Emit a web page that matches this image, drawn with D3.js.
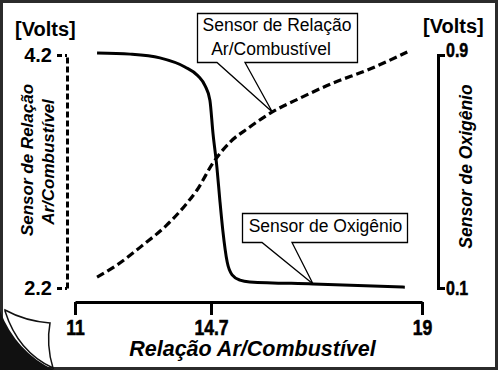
<!DOCTYPE html>
<html>
<head>
<meta charset="utf-8">
<script src="https://cdn.jsdelivr.net/npm/d3@7"></script>
<style>
  body { margin: 0; background: #fff; }
  .tick line { stroke: #000; }
</style>
</head>
<body>
<script>
// relação ar/combustível (eixo x) e tensões
var xTicks = [11, 14.7, 19];
var afrTicks = [2.2, 4.2];
var o2Ticks = [0.1, 0.9];

// Sensor de Oxigênio (linha cheia, eixo direito)
var o2Afr   = [11.60, 12.50, 13.31, 13.99, 14.35, 14.54, 14.67, 14.74, 14.82, 14.88, 14.94, 15.03, 15.13, 15.29, 15.49, 16.78, 18.65];
var o2Volts = [0.907, 0.903, 0.890, 0.859, 0.828, 0.794, 0.745, 0.632, 0.515, 0.402, 0.299, 0.189, 0.145, 0.127, 0.121, 0.114, 0.103];

// Sensor de Relação Ar/Combustível (tracejada, eixo esquerdo)
var afrAfr   = [11.60, 12.14, 12.85, 13.50, 14.05, 14.32, 14.74, 15.09, 15.46, 15.95, 16.52, 17.19, 17.89, 18.70];
var afrVolts = [2.294, 2.397, 2.569, 2.741, 2.930, 3.041, 3.273, 3.453, 3.573, 3.711, 3.831, 3.960, 4.071, 4.226];

var width = 500,
    height = 373;

var sans = "'Liberation Sans', Arial, sans-serif";
var squeeze = 0.8; // imita a fonte estreita dos números

var svg = d3.select("body").append("svg")
    .attr("width", width)
    .attr("height", height);

// escalas (o eixo x do desenho original não é linear)
var x = d3.scaleLinear().domain(xTicks).range([75, 211, 422]);
var yL = d3.scaleLinear().domain(afrTicks).range([288, 55]);
var yR = d3.scaleLinear().domain(o2Ticks).range([288, 55]);

// moldura
svg.append("rect")
    .attr("x", 1.5).attr("y", 1.5)
    .attr("width", 495).attr("height", 367)
    .attr("fill", "#fff")
    .attr("stroke", "#2b2b2b")
    .attr("stroke-width", 3);

// canto dobrado
svg.append("path")
    .attr("d", "M0,311 Q16,352 54,370 L0,370 Z")
    .attr("fill", "#111");
svg.append("path")
    .attr("d", "M5,310 Q25,321 50,323 Q46,345 53,368 Q18,352 5,311 Z")
    .attr("fill", "#fff")
    .attr("stroke", "#111")
    .attr("stroke-width", 1.5);

// eixo x
var gx = svg.append("g")
    .attr("transform", "translate(0,302)")
    .call(d3.axisBottom(x).tickValues(xTicks).tickSizeInner(13).tickSizeOuter(0).tickPadding(4)
      .tickFormat(function(d){ return d; }));
gx.selectAll("path, line").attr("stroke", "#000").attr("stroke-width", 3);
gx.selectAll("text")
    .attr("fill", "#000")
    .attr("stroke", "#000")
    .attr("stroke-width", 0.6)
    .attr("transform", "scale(" + squeeze + ",1)")
    .style("font-family", sans)
    .style("font-weight", "bold")
    .style("font-size", "22px");

// eixo esquerdo (tracejado)
var gl = svg.append("g")
    .attr("transform", "translate(67,0)")
    .call(d3.axisLeft(yL).tickValues(afrTicks).tickSizeInner(10).tickSizeOuter(0).tickPadding(5)
      .tickFormat(d3.format(".1f")));
gl.select(".domain")
    .attr("stroke", "#000").attr("stroke-width", 3)
    .attr("stroke-dasharray", "6,3");
gl.selectAll(".tick line")
    .attr("stroke-width", 3)
    .attr("stroke-dasharray", "2,3,5");
gl.selectAll("text")
    .attr("fill", "#000")
    .style("font-family", sans)
    .style("font-weight", "bold")
    .style("font-size", "20px");

// eixo direito
var gr = svg.append("g")
    .attr("transform", "translate(438,0)")
    .call(d3.axisRight(yR).tickValues(o2Ticks).tickSize(7).tickPadding(1)
      .tickFormat(d3.format(".1f")));
gr.selectAll("path, line").attr("stroke", "#000").attr("stroke-width", 3);
gr.selectAll("text")
    .attr("fill", "#000")
    .attr("stroke", "#000")
    .attr("stroke-width", 0.5)
    .attr("x", 8 / squeeze)
    .attr("transform", "scale(" + squeeze + ",1)")
    .style("font-family", sans)
    .style("font-weight", "bold")
    .style("font-size", "20px");
gr.selectAll(".tick text").filter(function(d){ return d === 0.9; })
    .attr("dy", "0.05em");

// curvas
var lineO2 = d3.line()
    .x(function(d, i){ return x(o2Afr[i]); })
    .y(function(d, i){ return yR(o2Volts[i]); })
    .curve(d3.curveMonotoneX);

var lineAfr = d3.line()
    .x(function(d, i){ return x(afrAfr[i]); })
    .y(function(d, i){ return yL(afrVolts[i]); })
    .curve(d3.curveMonotoneX);

svg.append("path")
    .attr("d", lineO2(o2Afr))
    .attr("fill", "none")
    .attr("stroke", "#000")
    .attr("stroke-width", 3);

svg.append("path")
    .attr("d", lineAfr(afrAfr))
    .attr("fill", "none")
    .attr("stroke", "#000")
    .attr("stroke-width", 3.2)
    .attr("stroke-dasharray", "8,4");

// balões
function callout(x0, y0, x1, y1, b0, b1, tx, ty) {
  var p = d3.path();
  p.moveTo(x0, y0);
  p.lineTo(x1, y0);
  p.lineTo(x1, y1);
  p.lineTo(b1, y1);
  p.lineTo(tx, ty);
  p.lineTo(b0, y1);
  p.lineTo(x0, y1);
  p.closePath();
  svg.append("path")
      .attr("d", p.toString())
      .attr("fill", "#fff")
      .attr("stroke", "#000")
      .attr("stroke-width", 1.3);
}

callout(197.5, 13.5, 357.5, 62.5, 217, 245, x(15.95), yL(3.711));
callout(242.5, 213.5, 407.5, 242.5, 262, 292, x(16.78), yR(0.114));

function label(t, xx, yy, size, weight, style, anchor, rot) {
  var el = svg.append("text")
      .attr("transform", "translate(" + xx + "," + yy + ")" + (rot ? " rotate(" + rot + ")" : ""))
      .attr("text-anchor", anchor || "start")
      .style("font-family", sans)
      .style("font-size", size + "px")
      .style("font-weight", weight || "normal")
      .style("font-style", style || "normal")
      .attr("fill", "#000")
      .text(t);
  return el;
}

label("Sensor de Relação", 277, 31, 17.5, "normal", "normal", "middle");
label("Ar/Combustível", 271, 55, 17.5, "normal", "normal", "middle");
label("Sensor de Oxigênio", 325.5, 232, 17.5, "normal", "normal", "middle");

label("[Volts]", 15, 36, 20, "bold");
label("[Volts]", 423, 33, 20, "bold");

label("Relação Ar/Combustível", 252.5, 356, 21.5, "bold", "italic", "middle");
label("Sensor de Relação", 33, 160, 17, "bold", "italic", "middle", -90);
label("Ar/Combustível", 54, 162, 17, "bold", "italic", "middle", -90);
label("Sensor de Oxigênio", 472, 166.5, 17.5, "bold", "italic", "middle", -90);
</script>
</body>
</html>
